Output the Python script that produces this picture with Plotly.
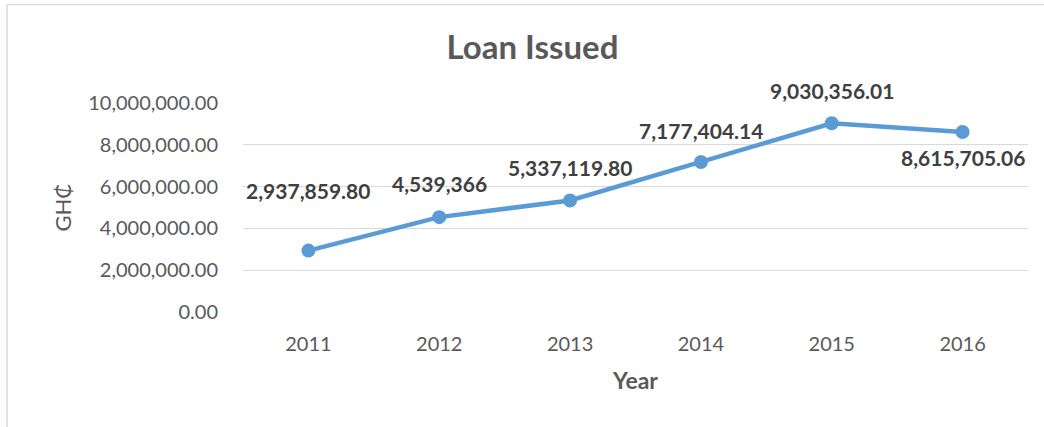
import plotly.graph_objects as go

years = ["2011", "2012", "2013", "2014", "2015", "2016"]
loans = [2937859.80, 4539366, 5337119.80, 7177404.14, 9030356.01, 8615705.06]
labels = ["2,937,859.80", "4,539,366", "5,337,119.80", "7,177,404.14", "9,030,356.01", "8,615,705.06"]
label_shift = [60, 34, 33, 31, 33, -26]
y_ticks = [0, 2000000, 4000000, 6000000, 8000000, 10000000]
y_tick_text = ["0.00", "2,000,000.00", "4,000,000.00", "6,000,000.00", "8,000,000.00", "10,000,000.00"]

font_family = "Lato, Open Sans, sans-serif"

fig = go.Figure()
fig.add_trace(go.Scatter(
    x=years, y=loans, mode="lines+markers",
    line=dict(color="#5B9BD5", width=4.5),
    marker=dict(color="#5B9BD5", size=14),
    hoverinfo="skip", showlegend=False,
))

for i, (y, t, s) in enumerate(zip(loans, labels, label_shift)):
    fig.add_annotation(x=i, y=y, text="<b>%s</b>" % t, showarrow=False,
                       yshift=s, font=dict(family=font_family, size=21, color="#404040"))

bx = (7 - 243) / 785
by = 1 + (103 - 4.5) / 209
fig.update_layout(
    width=1044, height=427,
    margin=dict(l=243, r=16, t=103, b=115),
    paper_bgcolor="white", plot_bgcolor="white",
    title=dict(text="<b>Loan Issued</b>", x=0.51, xanchor="center", y=0.888, yanchor="middle",
               font=dict(family=font_family, size=33, color="#595959")),
    font=dict(family=font_family, color="#595959"),
    shapes=[
        dict(type="line", xref="paper", yref="paper", x0=bx, x1=bx, y0=-115/209, y1=by,
             line=dict(color="#D9D9D9", width=1.5)),
        dict(type="line", xref="paper", yref="paper", x0=bx, x1=1 + 16/785, y0=by, y1=by,
             line=dict(color="#D9D9D9", width=1.5)),
    ],
)
fig.update_xaxes(
    type="category", range=[-0.5, 5.5], showgrid=False, showline=False, zeroline=False,
    tickfont=dict(family=font_family, size=20, color="#595959"),
    ticks="", ticklabelstandoff=18,
    title=dict(text="<b>Year</b>", font=dict(family=font_family, size=23, color="#595959"), standoff=18),
)
fig.update_yaxes(
    range=[0, 10000000], tickvals=y_ticks, ticktext=y_tick_text,
    showgrid=True, gridcolor="#D9D9D9", gridwidth=1.3, zeroline=False, showline=False,
    tickfont=dict(family=font_family, size=20, color="#595959"),
    ticks="", ticklabelstandoff=24,
    title=dict(text="GH₵", font=dict(family=font_family, size=22, color="#595959"), standoff=10),
)

fig.write_html("out.html")
